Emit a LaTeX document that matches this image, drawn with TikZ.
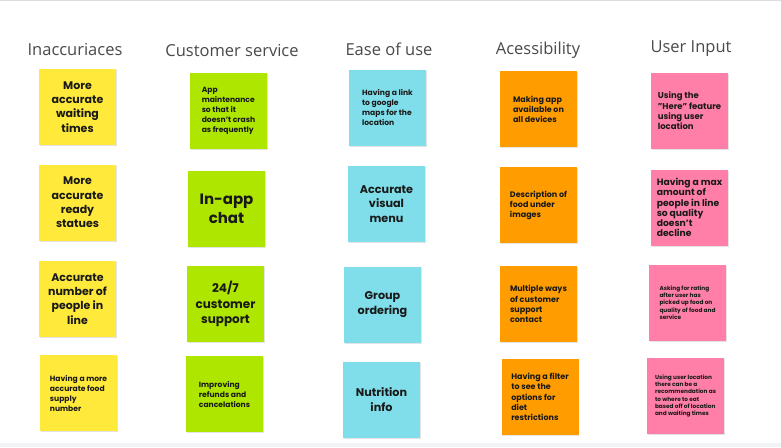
\documentclass[tikz,border=0pt]{standalone}
\usepackage{fontspec}
\setmainfont{Poppins}
\newfontfamily\titlefont{Open Sans}
\usetikzlibrary{shadows}
\definecolor{ycol}{HTML}{FFE93B}
\definecolor{gcol}{HTML}{AEE600}
\definecolor{ccol}{HTML}{80DEEA}
\definecolor{ocol}{HTML}{FF9D00}
\definecolor{pcol}{HTML}{FF7FA9}
\definecolor{titlecol}{HTML}{4A4A4A}
\definecolor{topline}{HTML}{DADCE0}
\definecolor{bottomband}{HTML}{F1F3F4}
\tikzset{
  sticky/.style={minimum width=77pt, minimum height=76pt, inner sep=2pt,
    text=black!90, font=\bfseries,
    drop shadow={opacity=0.22, shadow xshift=0.6pt, shadow yshift=-1.4pt}},
  coltitle/.style={font=\titlefont\fontsize{16.5}{18}\selectfont, text=titlecol, inner sep=0pt},
  lc/.style={align=left},
  cc/.style={align=center},
}
\newcommand{\fs}[2]{\fontsize{#1}{#2}\selectfont}
\begin{document}
\begin{tikzpicture}[x=1pt,y=-1pt]
\useasboundingbox (0,0) rectangle (781,447);
\fill[white] (0,0) rectangle (781,447);
\fill[topline] (0,0) rectangle (781,1.3);
\fill[bottomband] (0,443) rectangle (781,447);

% titles
\node[coltitle] (t1) at (75,50) {Inaccuriaces};
\node[coltitle] (t2) at (232,51) {Customer service};
\node[coltitle] (t3) at (389,49) {Ease of use};
\node[coltitle] (t4) at (538,50) {Acessibility};
\node[coltitle] (t5) at (691,49) {User Input};

% column 1
\node[sticky, fill=ycol, cc, font=\bfseries\fs{11}{14.3}] (a1) at (77.5,107) {More\\accurate\\waiting\\times};
\node[sticky, fill=ycol, cc, font=\bfseries\fs{11}{14.3}] (a2) at (77.5,202.5) {More\\accurate\\ready\\statues};
\node[sticky, fill=ycol, cc, font=\bfseries\fs{11}{14.3}] (a3) at (77.5,299) {Accurate\\number of\\people in\\line};
\node[sticky, fill=ycol, lc, font=\bfseries\fs{7.6}{10}] (a4) at (78.5,393) {Having a more\\accurate food\\supply\\number};

% column 2
\node[sticky, fill=gcol, lc, font=\bfseries\fs{7.6}{10}] (b1) at (228.5,111) {App\\maintenance\\so that it\\doesn't crash\\as frequently};
\node[sticky, fill=gcol, cc, font=\bfseries\fs{15}{19.3}] (b2) at (226.5,209) {In-app\\chat};
\node[sticky, fill=gcol, cc, font=\bfseries\fs{12}{15.5}] (b3) at (225.5,304) {24/7\\customer\\support};
\node[sticky, fill=gcol, lc, font=\bfseries\fs{7.6}{10}] (b4) at (224.5,394) {Improving\\refunds and\\cancelations};

% column 3
\node[sticky, fill=ccol, lc, font=\bfseries\fs{7.6}{10}] (c1) at (387.5,107.5) {Having a link\\to google\\maps for the\\location};
\node[sticky, fill=ccol, cc, font=\bfseries\fs{11.2}{14.5}] (c2) at (386.5,204) {Accurate\\visual\\menu};
\node[sticky, fill=ccol, cc, font=\bfseries\fs{11.2}{15}] (c3) at (382.5,304.5) {Group\\ordering};
\node[sticky, fill=ccol, cc, font=\bfseries\fs{11.2}{15}] (c4) at (381.5,400) {Nutrition\\info};

% column 4
\node[sticky, fill=ocol, lc, font=\bfseries\fs{8}{10}] (d1) at (538.5,109) {Making app\\available on\\all devices};
\node[sticky, fill=ocol, lc, font=\bfseries\fs{8}{10}] (d2) at (538.5,205) {Description of\\food under\\images};
\node[sticky, fill=ocol, lc, font=\bfseries\fs{8}{10.3}] (d3) at (538.5,304) {Multiple ways\\of customer\\support\\contact};
\node[sticky, fill=ocol, lc, font=\bfseries\fs{8}{10.3}] (d4) at (540,397) {Having a filter\\to see the\\options for\\diet\\restrictions};

% column 5
\node[sticky, fill=pcol, lc, font=\bfseries\fs{8.5}{10.3}] (e1) at (689.5,111) {Using the\\"Here" feature\\using user\\location};
\node[sticky, fill=pcol, lc, font=\bfseries\fs{9.2}{10.3}] (e2) at (689.5,207.5) {Having a max\\amount of\\people in line\\so quality\\doesn't\\decline};
\node[sticky, fill=pcol, lc, font=\bfseries\fs{5.8}{7.3}] (e3) at (687.5,302.5) {Asking for rating\\after user has\\picked up food on\\quality of food and\\service};
\node[sticky, fill=pcol, lc, font=\bfseries\fs{5.8}{7.3}] (e4) at (685.5,396) {Using user location\\there can be a\\recommendation as\\to where to eat\\based off of location\\and waiting times};
\end{tikzpicture}
\end{document}
